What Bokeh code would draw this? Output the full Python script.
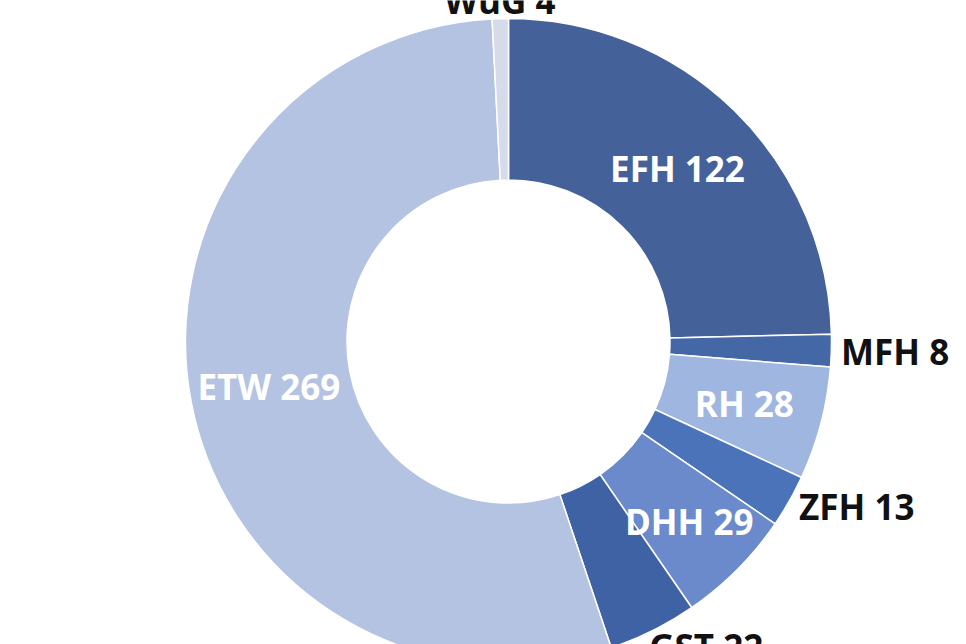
import math
from bokeh.plotting import figure
from bokeh.models import Range1d, ColumnDataSource
from bokeh.core.properties import value
from bokeh.embed import file_html
from bokeh.resources import INLINE

# data
categories = ["EFH", "MFH", "RH", "ZFH", "DHH", "GST", "ETW", "WuG"]
counts = [122, 8, 28, 13, 29, 22, 269, 4]
colors = ["#44619a", "#4467a6", "#9fb6e0", "#4a73b9", "#6b8acb", "#3e62a3", "#b3c3e1", "#d6dbea"]

# label styling (inside -> white, outside -> black)
label_inside = [True, False, True, False, True, False, True, False]
label_r = [0.748, 1.03, 0.755, 1.035, 0.79, 0.975, 0.755, 1.056]
label_align = ["center", "left", "center", "left", "center", "left", "center", "center"]
label_base = ["middle", "middle", "middle", "middle", "middle", "top", "middle", "alphabetic"]

total = sum(counts)
starts, ends, mids = [], [], []
cum = 0.0
for c in counts:
    a0 = cum / total * 2 * math.pi
    cum += c
    a1 = cum / total * 2 * math.pi
    starts.append(math.pi / 2 - a0)
    ends.append(math.pi / 2 - a1)
    mids.append((a0 + a1) / 2)

src = ColumnDataSource(dict(start=starts, end=ends, color=colors))

W, H = 966, 644
R = 323.0
cx, cy = 508.0, 341.0
x0 = (0 - cx) / R
x1 = (W - cx) / R
y1 = (cy - 0) / R
y0 = (cy - H) / R

p = figure(width=W, height=H, output_backend="svg", toolbar_location=None,
           x_range=Range1d(x0, x1), y_range=Range1d(y0, y1), min_border=0)
p.axis.visible = False
p.grid.visible = False
p.outline_line_color = None
p.background_fill_color = "white"
p.border_fill_color = "white"

p.annular_wedge(x=0, y=0, inner_radius=0.5, outer_radius=1.0,
                start_angle="start", end_angle="end", direction="clock",
                fill_color="color", line_color="white", line_width=1.5, source=src)

for i, cat in enumerate(categories):
    a = mids[i]
    r = label_r[i]
    tx = r * math.sin(a)
    ty = r * math.cos(a)
    p.text(x=[tx], y=[ty], text=[f"{cat} {counts[i]}"],
           text_font=value("Open Sans"), text_font_style="bold", text_font_size="35px",
           text_color="white" if label_inside[i] else "#111111",
           text_align=label_align[i], text_baseline=label_base[i])

open("out.html", "w").write(file_html(p, INLINE))
